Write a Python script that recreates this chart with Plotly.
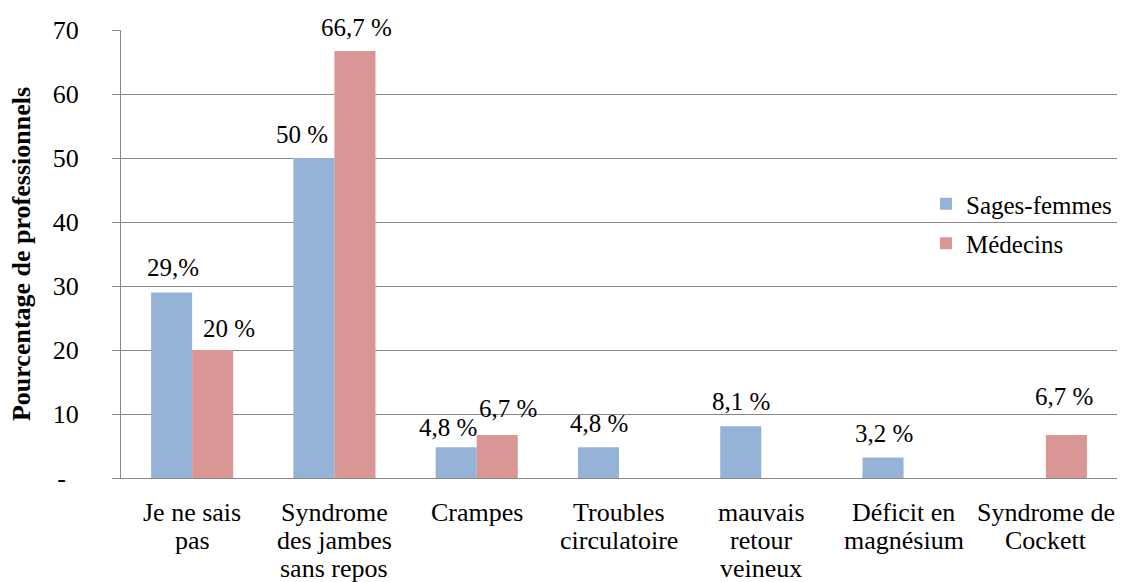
import plotly.graph_objects as go

categories = ["Je ne sais<br>pas", "Syndrome<br>des jambes<br>sans repos", "Crampes",
              "Troubles<br>circulatoire", "mauvais<br>retour<br>veineux",
              "Déficit en<br>magnésium", "Syndrome de<br>Cockett"]
sages_femmes = [29, 50, 4.8, 4.8, 8.1, 3.2, None]
medecins = [20, 66.7, 6.7, None, None, None, 6.7]
sf_labels = ["29,%", "50 %", "4,8 %", "4,8 %", "8,1 %", "3,2 %", None]
med_labels = ["20 %", "66,7 %", "6,7 %", None, None, None, "6,7 %"]
y_ticks = [0, 10, 20, 30, 40, 50, 60, 70]
y_ticktext = ["-\u00a0\u00a0", "10", "20", "30", "40", "50", "60", "70"]

# label offsets in pixels (dx, dy above bar top)
sf_offsets = [(1, 25), (-12, 24), (-8, 20), (1, 24), (0, 25), (1, 24), (0, 0)]
med_offsets = [(16, 22), (1.5, 24), (11, 27), (0, 0), (0, 0), (0, 0), (-2, 39)]

FONT = "Liberation Serif, Times New Roman, serif"
BLUE = "#95B3D7"
RED = "#D99694"
GRID = "#888888"

W, H = 1121, 582
ML, MR, MT, MB = 121, 4, 30, 104
plot_w = W - ML - MR
plot_h = H - MT - MB
cat_w = plot_w / len(categories)
bargap = 0.423
bar_w = cat_w * (1 - bargap) / 2

fig = go.Figure()
fig.add_trace(go.Bar(name="Sages-femmes", x=list(range(7)), y=sages_femmes,
                     marker=dict(color=BLUE, line=dict(width=0)), legendgroup="a"))
fig.add_trace(go.Bar(name="Médecins", x=list(range(7)), y=medecins,
                     marker=dict(color=RED, line=dict(width=0)), legendgroup="b"))

annotations = []
for i in range(7):
    for vals, labs, offs, side in ((sages_femmes, sf_labels, sf_offsets, -1),
                                   (medecins, med_labels, med_offsets, 1)):
        if vals[i] is None or labs[i] is None:
            continue
        dx, dy = offs[i]
        annotations.append(dict(x=i, y=vals[i], xref="x", yref="y", text=labs[i],
                                showarrow=False, xanchor="center", yanchor="middle",
                                xshift=side * bar_w / 2 + dx, yshift=dy,
                                font=dict(family=FONT, size=25, color="black")))
    # category labels, line by line
    for j, line in enumerate(categories[i].split("<br>")):
        annotations.append(dict(x=i, y=0, xref="x", yref="y", text=line,
                                showarrow=False, xanchor="center", yanchor="middle",
                                yshift=-34 - 28 * j,
                                font=dict(family=FONT, size=26, color="black")))

fig.update_layout(
    width=W, height=H,
    margin=dict(l=ML, r=MR, t=MT, b=MB, autoexpand=False),
    paper_bgcolor="white", plot_bgcolor="white",
    barmode="group", bargap=bargap, bargroupgap=0,
    font=dict(family=FONT, size=26, color="black"),
    annotations=annotations,
    showlegend=True,
    legend=dict(x=(926 - ML) / plot_w, xanchor="left", y=(478 - 181) / plot_h,
                yanchor="top", bgcolor="rgba(0,0,0,0)", borderwidth=0,
                font=dict(family=FONT, size=25, color="black"),
                traceorder="grouped", tracegroupgap=4),
    xaxis=dict(range=[-0.5, 6.5], showticklabels=False, showgrid=False, ticks="",
               showline=True, linecolor=GRID, linewidth=1, zeroline=False,
               automargin=False, fixedrange=True),
    yaxis=dict(range=[0, 70], tickvals=y_ticks, ticktext=y_ticktext, showgrid=True,
               gridcolor=GRID, gridwidth=1, showline=True, linecolor=GRID, linewidth=1,
               ticks="outside", ticklen=8, tickcolor=GRID, ticklabelstandoff=28,
               zeroline=False, automargin=False,
               tickfont=dict(family=FONT, size=26, color="black"),
               title=dict(text="<b>Pourcentage de professionnels</b>", standoff=14,
                          font=dict(family=FONT, size=26, color="black"))),
)

fig.write_html("out.html", config={"displayModeBar": False},
               post_script="document.body.style.margin='0';document.body.style.overflow='hidden';")
